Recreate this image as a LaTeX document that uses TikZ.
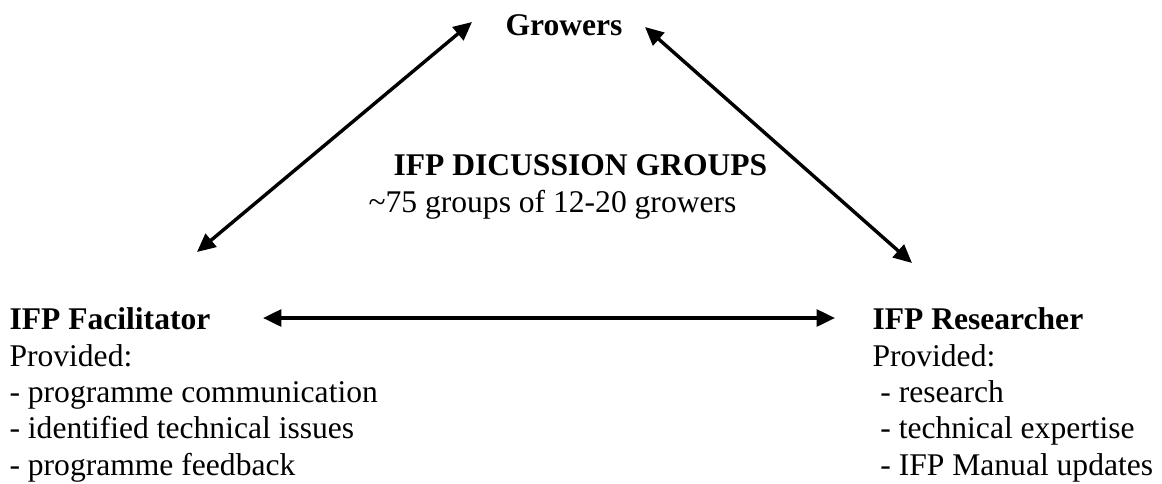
\documentclass[tikz,border=0pt]{standalone}
\usepackage{fontspec}
\setmainfont{Liberation Serif}
\usepackage{tikz}
\usetikzlibrary{arrows.meta}
\newcommand{\figfont}{\fontsize{12}{13.8}\selectfont}

\begin{document}
\begin{tikzpicture}[x=0.38pt, y=-0.38pt, font=\figfont,
    title/.style={font=\figfont\bfseries, inner sep=0},
    block/.style={font=\figfont, inner sep=0, align=left, anchor=base west},
    link/.style={{Triangle[length=7pt, width=6.4pt]}-{Triangle[length=7pt, width=6.4pt]}, line width=1.3pt}]
    \useasboundingbox (0, 0) rectangle (1162, 483);

    \node (growers) [title, anchor=base west] at (505, 35) {Growers};
    \node (groups) [title, anchor=base west] at (393, 175) {IFP DICUSSION GROUPS};
    \node (size) [block] at (368, 212) {\textasciitilde75 groups of 12-20 growers};
    % multi-line blocks sit on the baseline of their last line
    \node (facil) [block] at (9, 475) {\textbf{IFP Facilitator}\\Provided:\\- programme communication\\- identified technical issues\\- programme feedback};
    \node (research) [block] at (872, 475) {\textbf{IFP Researcher}\\Provided:\\\ - research\\\ - technical expertise\\\ - IFP Manual updates};

    \coordinate (facil-up) at (197, 252);
    \coordinate (growers-l) at (472, 22);
    \coordinate (growers-r) at (645, 27);
    \coordinate (research-up) at (912, 263);
    \coordinate (facil-r) at (263, 318);
    \coordinate (research-l) at (835, 318);

    \draw[link] (facil-up) -- (growers-l);
    \draw[link] (growers-r) -- (research-up);
    \draw[link] (facil-r) -- (research-l);
\end{tikzpicture}
\end{document}
